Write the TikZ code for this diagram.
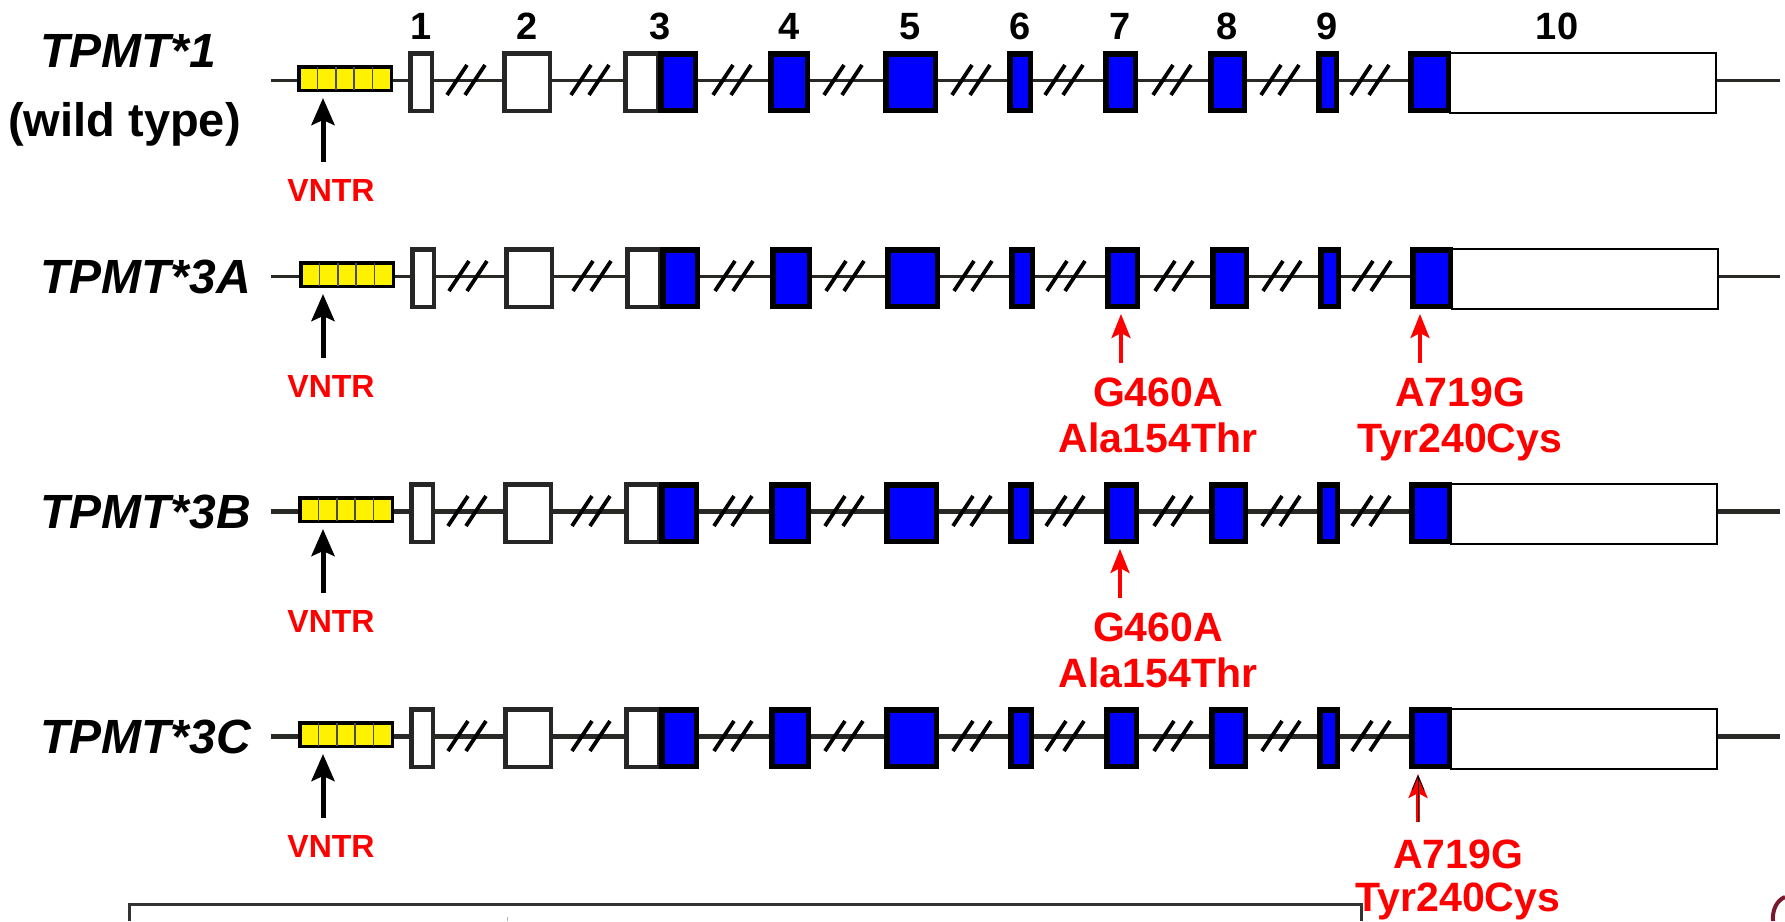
\documentclass[tikz,border=0pt]{standalone}
\usepackage{fontspec}
\setmainfont{Liberation Sans}
\usetikzlibrary{arrows.meta}
\definecolor{maroonc}{RGB}{120,25,45}
\definecolor{linegray}{RGB}{40,40,36}
\begin{document}
\begin{tikzpicture}[x=1pt,y=-1pt,
  whiteex/.style={draw=black!85, line width=4.5pt, fill=white, inner sep=0pt, minimum height=57.5pt},
  blueex/.style={draw=black, line width=5.5pt, fill=blue, inner sep=0pt, minimum height=56.5pt},
  utrex/.style={draw=black, line width=2pt, fill=white, inner sep=0pt, minimum height=60pt},
  vntrbox/.style={draw=black, line width=3.5pt, fill=yellow, inner sep=0pt, minimum width=92.5pt, minimum height=23.5pt},
  genelabel/.style={font=\fontsize{48}{56}\selectfont\bfseries\itshape, anchor=base west, inner sep=0pt},
  numlabel/.style={font=\fontsize{38}{44}\selectfont\bfseries, anchor=base, inner sep=0pt},
  vntrlabel/.style={font=\fontsize{32}{38}\selectfont\bfseries, text=red, anchor=base, inner sep=0pt},
  mutlabel/.style={font=\fontsize{41}{46}\selectfont\bfseries, text=red, anchor=base, inner sep=0pt},
  brk/.style={line width=3.8pt, black},
  blackarrow/.style={line width=5pt, black, -{Stealth[length=27pt,width=23pt,inset=5pt]}},
  redarrow/.style={line width=3.5pt, red, -{Stealth[length=24pt,width=19pt,inset=5pt]}},
]
\useasboundingbox (0,0) rectangle (1785,921);

\foreach \r/\L/\s/\lw in {1/80/0/3, 2/276/2/3, 3/511/1/5, 4/736/1/5} {
  \coordinate (start\r) at (271,\L);
  \coordinate (end\r) at (1780,\L);
  \draw[line width=\lw pt, linegray] (start\r) -- (end\r);
  \foreach \c in {466,590,732,843,971,1064,1172,1280,1370} {
    \draw[brk] (\c-19+\s,\L+15) -- (\c+1+\s,\L-15);
    \draw[brk] (\c-1+\s,\L+15) -- (\c+19+\s,\L-15);
  }
  \node[vntrbox] (v\r) at (345+\s,\L-1.5) {};
  \foreach \k in {1,...,4} {
    \draw[black!70, line width=1.5pt] (299+\k*18.4+\s,\L-13.25) -- (299+\k*18.4+\s,\L+10.25);
  }
  \node[whiteex, minimum width=21.5pt] (e\r-1) at (421+\s,\L+2) {};
  \node[whiteex, minimum width=45.5pt] (e\r-2) at (527+\s,\L+2) {};
  \node[whiteex, minimum width=32.5pt] (e\r-3w) at (641.5+\s,\L+2) {};
  \node[blueex, minimum width=34.5pt] (e\r-3) at (678+\s,\L+2) {};
  \node[blueex, minimum width=36.5pt] (e\r-4) at (789+\s,\L+2) {};
  \node[blueex, minimum width=49.5pt] (e\r-5) at (910.5+\s,\L+2) {};
  \node[blueex, minimum width=20.5pt] (e\r-6) at (1020+\s,\L+2) {};
  \node[blueex, minimum width=29.5pt] (e\r-7) at (1120.5+\s,\L+2) {};
  \node[blueex, minimum width=33.5pt] (e\r-8) at (1227.5+\s,\L+2) {};
  \node[blueex, minimum width=17.5pt] (e\r-9) at (1327.5+\s,\L+2) {};
  \node[utrex, minimum width=266pt] (e\r-10w) at (1583+\s,\L+2.5) {};
  \node[blueex, minimum width=37.5pt] (e\r-10) at (1429.5+\s,\L+2) {};
  \node[vntrlabel] (vl\r) at (331,\L+121.5) {VNTR};
  \coordinate (va\r) at (323,\L+82);
  \draw[blackarrow, shorten >=6pt] (va\r) -- (va\r |- v\r.south);
}

% exon numbers
\node[numlabel] (n1) at (421,39) {1};
\node[numlabel] (n2) at (527,39) {2};
\node[numlabel] (n3) at (660,39) {3};
\node[numlabel] (n4) at (789,39) {4};
\node[numlabel] (n5) at (910,39) {5};
\node[numlabel] (n6) at (1020,39) {6};
\node[numlabel] (n7) at (1120,39) {7};
\node[numlabel] (n8) at (1227,39) {8};
\node[numlabel] (n9) at (1327,39) {9};
\node[numlabel] (n10) at (1557,39) {10};

% allele names
\node[genelabel] (g1) at (40,67) {TPMT*1};
\node[font=\fontsize{47}{56}\selectfont\bfseries, anchor=base, inner sep=0pt] (wt) at (124.5,136) {(wild type)};
\node[genelabel] (g2) at (40,293) {TPMT*3A};
\node[genelabel] (g3) at (40,528) {TPMT*3B};
\node[genelabel] (g4) at (40,753) {TPMT*3C};

% TPMT*3A mutations
\coordinate (m2g) at (1121,363);
\draw[redarrow, shorten >=5pt] (m2g) -- (m2g |- e2-7.south);
\node[mutlabel] (t2g1) at (1158,406) {G460A};
\node[mutlabel] (t2g2) at (1158,452) {Ala154Thr};
\coordinate (m2a) at (1420,363);
\draw[redarrow, shorten >=5pt] (m2a) -- (m2a |- e2-10.south);
\node[mutlabel] (t2a1) at (1460,406) {A719G};
\node[mutlabel] (t2a2) at (1460,452) {Tyr240Cys};

% TPMT*3B mutation
\coordinate (m3g) at (1120,598);
\draw[redarrow, shorten >=5pt] (m3g) -- (m3g |- e3-7.south);
\node[mutlabel] (t3g1) at (1158,641) {G460A};
\node[mutlabel] (t3g2) at (1158,687) {Ala154Thr};

% TPMT*3C mutation
\coordinate (m4a) at (1418,822);
\draw[redarrow, shorten >=5pt] (m4a) -- (m4a |- e4-10.south);
\draw[black, line width=0.8pt, shorten >=6pt, -{Straight Barb[length=14pt,width=12pt]}] (m4a) -- (m4a |- e4-10.south);
\node[mutlabel] (t4a1) at (1458,868) {A719G};
\node[mutlabel] (t4a2) at (1458,911) {Tyr240Cys};

% bottom fragments
\draw[black!80, line width=3pt] (129,921) -- (129,904) -- (1361,904) -- (1361,921);
\draw[black!30, line width=1pt] (507,917) -- (507,921);
\draw[maroonc, line width=4pt] (1785,897) .. controls (1777,900) and (1772,910) .. (1773,921);
\end{tikzpicture}
\end{document}
